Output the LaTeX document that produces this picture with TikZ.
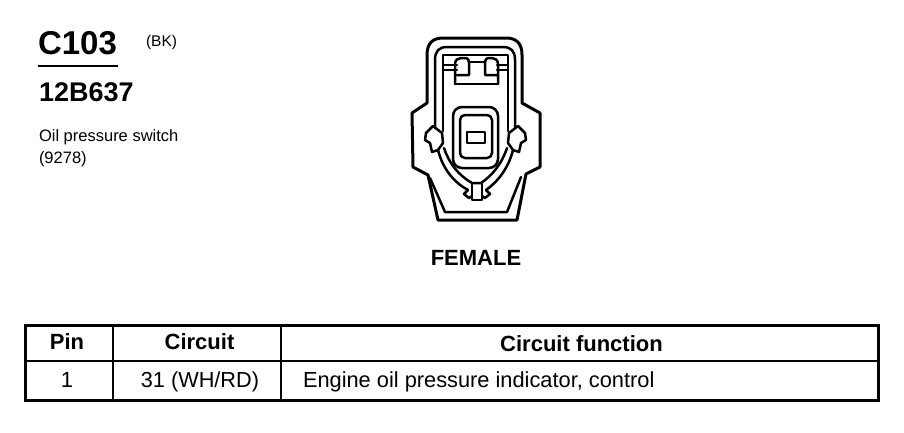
\documentclass[tikz,border=0pt]{standalone}
\usepackage{fontspec}
\setmainfont{Liberation Sans}
\tikzset{
  ln/.style={line width=2.5pt,line join=round,line cap=round,black},
  thick ln/.style={line width=3pt,line join=round,black},
  txt/.style={inner sep=0pt,outer sep=0pt,text=black}
}
\begin{document}
\begin{tikzpicture}[x=1pt,y=-1pt]
\useasboundingbox (0,0) rectangle (904,432);
\fill[white] (0,0) rectangle (904,432);
% header text
\node[txt,font=\fontsize{33}{33}\selectfont\bfseries,anchor=base west] (code) at (38,54) {C103};
\node[txt,font=\fontsize{15.5}{16}\selectfont,anchor=base west] (col) at (146,46) {(BK)};
\draw[line width=1.4pt] (38,66) -- (118,66);
\node[txt,font=\fontsize{27}{27}\selectfont\bfseries,anchor=base west] (part) at (39,101) {12B637};
\node[txt,font=\fontsize{16.5}{17}\selectfont,anchor=base west] (n1) at (39,141) {Oil pressure switch};
\node[txt,font=\fontsize{16.5}{17}\selectfont,anchor=base west] (n2) at (39,163) {(9278)};
\node[txt,font=\fontsize{22}{22}\selectfont\bfseries,anchor=base] (fem) at (476,265) {FEMALE};
% connector shell
\draw[thick ln] (427,103) -- (427,55) .. controls (427,43) and (433,38) .. (443,38) -- (506,38)
  .. controls (516,38) and (522,43) .. (522,55) -- (522,103) -- (540,113) -- (540,167) -- (526,174)
  -- (517,220) -- (438,220) -- (428,175) -- (413,167) -- (412,113) -- cycle;
\draw[ln] (430,178) -- (445,212) -- (507,212) -- (521,177);
% second contour
\draw[ln] (435,128) -- (435,60) .. controls (435,51) and (439,47) .. (447,47) -- (503,47)
  .. controls (511,47) and (515,51) .. (515,60) -- (515,128);
\draw[ln] (438,150) .. controls (443,170) and (455,183) .. (468,190);
\draw[ln] (513,150) .. controls (508,170) and (496,183) .. (486,190);
% third contour
\draw[ln] (443,131) -- (443,55) -- (508,55) -- (508,131);
\draw[ln] (444,148) .. controls (449,163) and (458,175) .. (472,183) -- (481,183)
  .. controls (493,175) and (502,163) .. (507,148);
% top latch
\draw[ln] (443,65) -- (457,65);
\draw[ln] (443,70) -- (457,70);
\draw[ln] (497,65) -- (508,65);
\draw[ln] (497,70) -- (508,70);
\draw[ln] (455,84) -- (455,64) .. controls (455,60) and (458,58) .. (461,58) -- (466,58)
  .. controls (468,58) and (469,60) .. (469,63) -- (469,75) -- (457,75);
\draw[ln] (498,84) -- (498,64) .. controls (498,60) and (495,58) .. (492,58) -- (488,58)
  .. controls (486,58) and (485,60) .. (485,63) -- (485,75) -- (497,75);
\draw[ln] (469,62) -- (485,62);
\draw[ln] (455,84) -- (498,84);
% central socket
\draw[ln,rounded corners=9pt] (453,168) rectangle (498,107);
\draw[ln,rounded corners=5pt] (460,158) rectangle (492,115);
\draw[ln] (467,132) rectangle (485,143);
% side latches
\draw[ln] (426,133) -- (433,126) -- (442,133) -- (443,143) -- (438,150) -- (432,152) -- (430,143) -- (425,140) -- cycle;
\draw[ln] (525,133) -- (518,126) -- (509,133) -- (508,143) -- (513,150) -- (519,152) -- (521,143) -- (526,140) -- cycle;
% bottom key
\draw[ln] (472,183) -- (472,200) -- (482,200) -- (482,183);
\draw[ln] (468,190) -- (464,194) -- (469,198) -- (472,196);
\draw[ln] (486,190) -- (490,194) -- (485,198) -- (482,196);
% table
\draw[thick ln,line join=miter] (25,325) rectangle (878,400);
\draw[line width=2.4pt] (25,361) -- (878,361);
\draw[line width=2.4pt] (113,325) -- (113,400);
\draw[line width=2.4pt] (281,325) -- (281,400);
\node[txt,font=\fontsize{22}{22}\selectfont\bfseries,anchor=base] (h1) at (67,349) {Pin};
\node[txt,font=\fontsize{22}{22}\selectfont\bfseries,anchor=base] (h2) at (199.5,349) {Circuit};
\node[txt,font=\fontsize{22}{22}\selectfont\bfseries,anchor=base] (h3) at (581.5,351) {Circuit function};
\node[txt,font=\fontsize{22}{22}\selectfont,anchor=base] (c1) at (67,387) {1};
\node[txt,font=\fontsize{21.7}{22}\selectfont,anchor=base] (c2) at (200,387) {31 (WH/RD)};
\node[txt,font=\fontsize{21.8}{22}\selectfont,anchor=base west] (c3) at (303,387) {Engine oil pressure indicator, control};
\end{tikzpicture}
\end{document}
